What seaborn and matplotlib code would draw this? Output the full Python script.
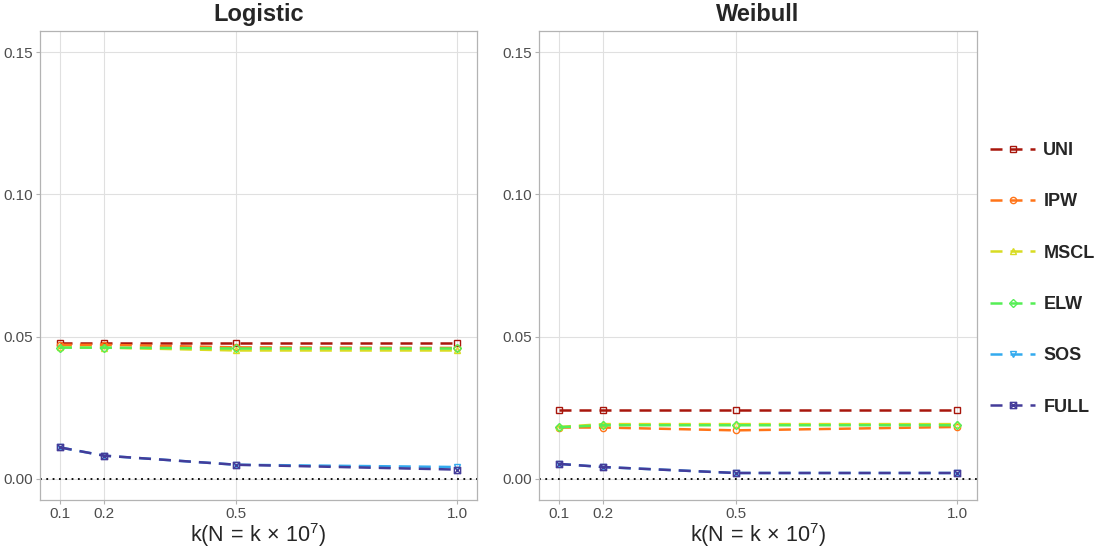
import numpy as np
import pandas as pd

import matplotlib as mpl
import matplotlib.pyplot as plt
from matplotlib.path import Path

import seaborn as sns

sns.set_theme(style="white")
mpl.rcParams["font.family"] = ["Liberation Sans", "DejaVu Sans"]
mpl.rcParams["mathtext.fontset"] = "custom"
mpl.rcParams["mathtext.rm"] = "Liberation Sans"
mpl.rcParams["mathtext.it"] = "Liberation Sans"

# --------------------------------------------------
# Data
# --------------------------------------------------

k_values = [0.1, 0.2, 0.5, 1.0]
methods = ["UNI", "IPW", "MSCL", "ELW", "SOS", "FULL"]

logistic = {
    "UNI": [0.0479, 0.0479, 0.0479, 0.0479],
    "IPW": [0.0471, 0.0471, 0.0462, 0.0460],
    "MSCL": [0.0462, 0.0461, 0.0451, 0.0451],
    "ELW": [0.0461, 0.0461, 0.0458, 0.0458],
    "SOS": [0.0110, 0.0081, 0.0049, 0.0041],
    "FULL": [0.0110, 0.0081, 0.0049, 0.0032],
}

weibull = {
    "UNI": [0.0240, 0.0240, 0.0240, 0.0240],
    "IPW": [0.0180, 0.0180, 0.0170, 0.0182],
    "MSCL": [0.0182, 0.0192, 0.0192, 0.0192],
    "ELW": [0.0181, 0.0188, 0.0188, 0.0188],
    "SOS": [0.0052, 0.0041, 0.0020, 0.0020],
    "FULL": [0.0052, 0.0041, 0.0020, 0.0020],
}

panels = {"Logistic": logistic, "Weibull": weibull}

x_ticks = [0.1, 0.2, 0.5, 1.0]
x_tick_labels = ["0.1", "0.2", "0.5", "1.0"]
y_ticks = [0.00, 0.05, 0.10, 0.15]
y_tick_labels = ["0.00", "0.05", "0.10", "0.15"]

COLORS = {
    "UNI": "#A8160C",
    "IPW": "#FF7418",
    "MSCL": "#D8DC22",
    "ELW": "#55EE55",
    "SOS": "#33AAEE",
    "FULL": "#443C99",
}

# square with a cross, like ggplot shape 7
boxed_x = Path(
    [(-1, -1), (1, -1), (1, 1), (-1, 1), (-1, -1),
     (-1, -1), (1, 1), (-1, 1), (1, -1)],
    [Path.MOVETO, Path.LINETO, Path.LINETO, Path.LINETO, Path.CLOSEPOLY,
     Path.MOVETO, Path.LINETO, Path.MOVETO, Path.LINETO],
)

MARKERS = {
    "UNI": "s",
    "IPW": "o",
    "MSCL": "^",
    "ELW": "D",
    "SOS": "v",
    "FULL": boxed_x,
}

DASH = (4.8, 3.2)

GRID_COLOR = "#E0E0E0"
BORDER_COLOR = "#B3B3B3"
TICK_COLOR = "#4D4D4D"


def long_frame(values):
    rows = []
    for m in methods:
        for k, v in zip(k_values, values[m]):
            rows.append({"k": k, "value": v, "method": m})
    return pd.DataFrame(rows)


fig = plt.figure(figsize=(10.98, 5.48), dpi=100)

axes_rects = [
    [40 / 1098, 48 / 548, 437 / 1098, 469 / 548],
    [539 / 1098, 48 / 548, 438 / 1098, 469 / 548],
]

for rect, (title, values) in zip(axes_rects, panels.items()):

    ax = fig.add_axes(rect)

    df = long_frame(values)

    sns.lineplot(
        data=df,
        x="k",
        y="value",
        hue="method",
        style="method",
        hue_order=methods,
        style_order=methods,
        palette=COLORS,
        markers=MARKERS,
        dashes={m: DASH for m in methods},
        linewidth=1.8,
        markersize=4.5,
        legend=False,
        ax=ax,
    )

    for line in ax.lines:
        line.set_markerfacecolor("none")
        line.set_markeredgecolor(line.get_color())
        line.set_markeredgewidth(1.0)

    ax.axhline(0, color="black", linestyle=(0, (1, 2.5)), linewidth=1.3, zorder=1)

    ax.set_xlim(0.055, 1.045)
    ax.set_ylim(-0.0075, 0.1575)

    ax.set_xticks(x_ticks)
    ax.set_xticklabels(x_tick_labels)
    ax.set_yticks(y_ticks)
    ax.set_yticklabels(y_tick_labels)

    ax.tick_params(
        axis="both",
        length=3,
        width=0.8,
        color=BORDER_COLOR,
        labelcolor=TICK_COLOR,
        labelsize=11,
        pad=2,
        bottom=True,
        left=True,
    )

    ax.grid(True, color=GRID_COLOR, linewidth=0.8, zorder=0)
    ax.set_axisbelow(True)

    for spine in ax.spines.values():
        spine.set_visible(True)
        spine.set_color(BORDER_COLOR)
        spine.set_linewidth(0.9)

    ax.set_title(title, fontsize=17, fontweight="bold", pad=7)
    ax.set_xlabel(r"k(N$\,=\,$k$\,\times\,$10$^{7}$)", fontsize=15.5, labelpad=0)
    ax.set_ylabel("")

handles = fig.axes[0].lines[: len(methods)]

leg = fig.legend(
    handles,
    methods,
    loc="center left",
    bbox_to_anchor=(990 / 1098, 0.491),
    frameon=False,
    fontsize=13,
    labelspacing=1.9,
    handlelength=2.5,
    handletextpad=0.45,
    borderpad=0,
    borderaxespad=0,
)

for text in leg.get_texts():
    text.set_fontweight("bold")

fig.savefig("out.png", dpi=100)
